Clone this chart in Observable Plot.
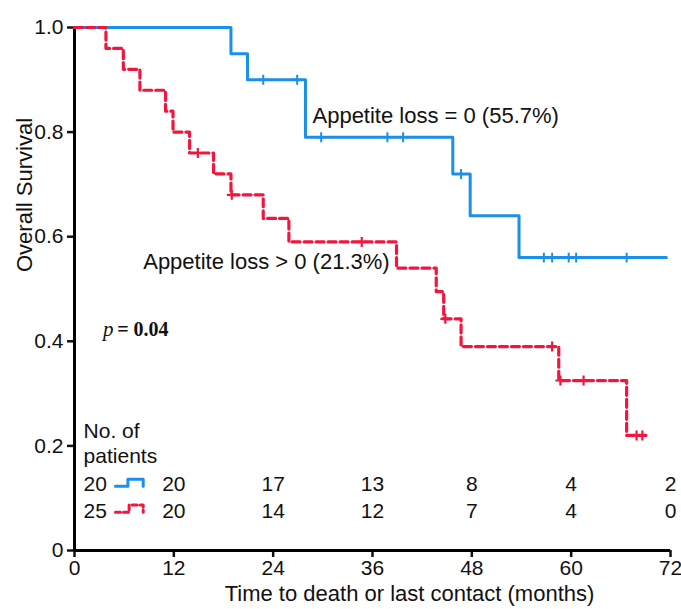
<!DOCTYPE html>
<html>
<head>
<meta charset="utf-8">
<script src="https://cdn.jsdelivr.net/npm/d3@7"></script>
<script src="https://cdn.jsdelivr.net/npm/@observablehq/plot@0.6"></script>
<style>
  html, body { margin: 0; padding: 0; background: #fff; }
  #chart { width: 681px; height: 609px; }
</style>
</head>
<body>
<div id="chart"></div>
<script>
// ---- Data ----
// Appetite loss = 0 (blue, solid)
const blueTime = [0, 18.9, 20.9, 27.9, 45.7, 47.8, 53.7, 71.5];
const blueSurv = [1, 0.95, 0.90, 0.79, 0.72, 0.64, 0.56, 0.56];
const blueCensorTime = [22.8, 26.9, 29.8, 37.8, 39.7, 46.7, 56.7, 57.7, 59.7, 60.6, 66.7];
const blueCensorSurv = [0.90, 0.90, 0.79, 0.79, 0.79, 0.72, 0.56, 0.56, 0.56, 0.56, 0.56];

// Appetite loss > 0 (red, dashed)
const redTime = [0, 3.8, 5.9, 7.9, 11.0, 11.9, 13.9, 16.8, 18.9, 22.8, 25.9, 38.9, 43.7, 44.6, 46.7, 58.5, 66.7, 69.0];
const redSurv = [1, 0.96, 0.92, 0.88, 0.84, 0.80, 0.76, 0.72, 0.68, 0.635, 0.59, 0.54, 0.495, 0.443, 0.39, 0.325, 0.22, 0.22];
const redCensorTime = [14.9, 19.0, 34.7, 44.8, 57.7, 58.7, 61.5, 67.9, 68.6];
const redCensorSurv = [0.76, 0.68, 0.59, 0.443, 0.39, 0.325, 0.325, 0.22, 0.22];

// Axis ticks
const xTicks = [0, 12, 24, 36, 48, 60, 72];
const yTicks = [0, 0.2, 0.4, 0.6, 0.8, 1.0];
const xTitle = "Time to death or last contact (months)";
const yTitle = "Overall Survival";

// Number at risk table
const riskTimes = [12, 24, 36, 48, 60, 72];
const blueRisk = [20, 17, 13, 8, 4, 2];
const redRisk = [20, 14, 12, 7, 4, 0];
const riskStart = ["20", "25"];
const riskStartX = [1.1, 1.1];
const riskRowY = [0.126, 0.075];
const tableHead = ["No. of", "patients"];
const tableHeadX = [1.1, 1.1];
const tableHeadY = [0.228, 0.180];
// legend glyphs in the table (step shapes)
const blueGlyphX = [4.95, 6.45, 6.45, 8.3, 8.3];
const blueGlyphY = [0.123, 0.123, 0.136, 0.136, 0.123];
const redGlyphX = [4.95, 6.6, 6.6, 8.3, 8.3];
const redGlyphY = [0.073, 0.073, 0.087, 0.087, 0.073];

// Annotations
const annotText = ["Appetite loss = 0 (55.7%)", "Appetite loss > 0 (21.3%)"];
const annotX = [28.75, 8.3];
const annotY = [0.830, 0.551];
const pLabel = ["p"];
const pRest = ["= 0.04"];
const pX = [3.45];
const pRestX = [5.15];
const pY = [0.423];

const BLUE = "#1c8fe6";
const RED = "#f2163f";

const zip = (xs, ys) => xs.map((x, i) => ({x, y: ys[i]}));

const plot = Plot.plot({
  width: 681,
  height: 609,
  marginLeft: 74,
  marginRight: 11,
  marginTop: 27,
  marginBottom: 59,
  style: {fontFamily: "'Liberation Sans', Arial, sans-serif", fontSize: "21px", color: "#111", background: "#fff"},
  x: {domain: [0, 72]},
  y: {domain: [0, 1]},
  marks: [
    Plot.axisX({ticks: xTicks, tickSize: 7, tickPadding: 3, strokeWidth: 2.5, label: null, fontSize: 21, tickFormat: d => String(d)}),
    Plot.axisY({ticks: yTicks, tickSize: 7, tickPadding: 4, strokeWidth: 2.5, label: null, fontSize: 21,
      tickFormat: d => d === 0 ? "0" : d.toFixed(1)}),
    Plot.ruleX([0], {strokeWidth: 3, stroke: "#000"}),
    Plot.ruleY([0], {strokeWidth: 3, stroke: "#000"}),
    // curves
    Plot.line(zip(blueTime, blueSurv), {x: "x", y: "y", curve: "step-after", stroke: BLUE, strokeWidth: 3}),
    Plot.dot(zip(blueCensorTime, blueCensorSurv), {x: "x", y: "y", symbol: "plus", r: 3.3, stroke: BLUE, strokeWidth: 2}),
    Plot.line(zip(redTime, redSurv), {x: "x", y: "y", curve: "step-after", stroke: RED, strokeWidth: 3.2, strokeDasharray: "8,4"}),
    Plot.dot(zip(redCensorTime, redCensorSurv), {x: "x", y: "y", symbol: "plus", r: 3.3, stroke: RED, strokeWidth: 2.2}),
    // annotations
    Plot.text(annotText, {x: annotX, y: annotY, text: d => d, textAnchor: "start", fontSize: 22}),
    Plot.text(pLabel, {x: pX, y: pY, text: d => d, textAnchor: "start", fontSize: 21, fontStyle: "italic", fontFamily: "'Liberation Serif', 'Times New Roman', serif"}),
    Plot.text(pRest, {x: pRestX, y: pY, text: d => d, textAnchor: "start", fontSize: 20, fontWeight: "bold", fontFamily: "'Liberation Serif', 'Times New Roman', serif"}),
    // number-at-risk table
    Plot.text(tableHead, {x: tableHeadX, y: tableHeadY, text: d => d, textAnchor: "start", fontSize: 21}),
    Plot.text(riskStart, {x: riskStartX, y: riskRowY, text: d => d, textAnchor: "start", fontSize: 21}),
    Plot.line(zip(blueGlyphX, blueGlyphY), {x: "x", y: "y", stroke: BLUE, strokeWidth: 3}),
    Plot.line(zip(redGlyphX, redGlyphY), {x: "x", y: "y", stroke: RED, strokeWidth: 3, strokeDasharray: "5,3"}),
    Plot.text(blueRisk, {x: riskTimes, y: riskTimes.map(() => riskRowY[0]), text: d => String(d), fontSize: 21}),
    Plot.text(redRisk, {x: riskTimes, y: riskTimes.map(() => riskRowY[1]), text: d => String(d), fontSize: 21}),
    // axis titles
    Plot.text([xTitle], {frameAnchor: "bottom", dx: 37, dy: 43, text: d => d, fontSize: 22, lineAnchor: "middle"}),
    Plot.text([yTitle], {frameAnchor: "left", rotate: -90, dx: -50, dy: -17, text: d => d, fontSize: 22, lineAnchor: "middle"})
  ]
});
document.getElementById("chart").appendChild(plot);
</script>
</body>
</html>
